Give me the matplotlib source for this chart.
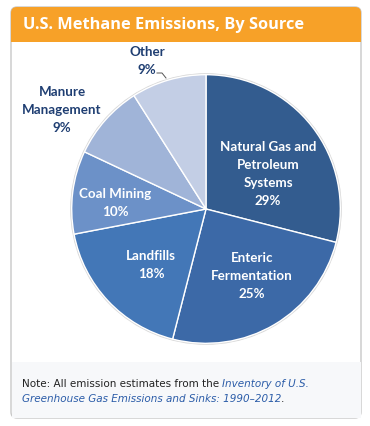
import numpy as np
import matplotlib
matplotlib.use('Agg')
import matplotlib.pyplot as plt
from matplotlib.patches import FancyBboxPatch, Rectangle

# data
sources = ['Natural Gas and\nPetroleum\nSystems', 'Enteric\nFermentation', 'Landfills',
           'Coal Mining', 'Manure\nManagement', 'Other']
shares = [29, 25, 18, 10, 9, 9]
colors = ['#335C8F', '#3C69A7', '#4377B7', '#6C91C8', '#A0B4D8', '#C3CEE5']

# label placement in pixels (x, y) and whether the label sits inside the slice
label_pos = [(268, 174), (252, 276), (151, 265), (115, 203), (62, 110), (147, 61)]
label_inside = [True, True, True, True, False, False]

W, H = 370, 426
fig = plt.figure(figsize=(W / 100, H / 100), dpi=100)
bg = fig.add_axes([0, 0, 1, 1])
bg.set_xlim(0, W)
bg.set_ylim(H, 0)
bg.axis('off')

# frame, header and note box
bg.add_patch(FancyBboxPatch((11, 7), 350, 411, boxstyle='round,pad=0,rounding_size=6',
                            fc='white', ec='#C8C8C8', lw=1))
bg.add_patch(FancyBboxPatch((11, 7), 350, 35, boxstyle='round,pad=0,rounding_size=6',
                            fc='#F7A128', ec='none'))
bg.add_patch(Rectangle((11, 30), 350, 12, fc='#F7A128', ec='none'))
bg.add_patch(Rectangle((11.5, 362), 349, 55.5, fc='#F7F8FA', ec='none'))

bg.text(23, 25, 'U.S. Methane Emissions, By Source', color='white', fontsize=11.8,
        fontweight='bold', family='Open Sans', va='center', ha='left')

# note
fs = 7.5
t1 = bg.text(22, 387, 'Note: All emission estimates from the ', color='#222222',
              fontsize=fs, family='DejaVu Sans', va='baseline')
bg.annotate('Inventory of U.S.', xy=(1, 0), xycoords=t1, va='bottom', ha='left',
            color='#2B5CA8', fontsize=fs, family='DejaVu Sans', style='italic')
t3 = bg.text(22, 402, 'Greenhouse Gas Emissions and Sinks: 1990\u20132012', color='#2B5CA8',
             fontsize=fs, family='DejaVu Sans', style='italic', va='baseline')
bg.annotate('.', xy=(1, 0), xycoords=t3, va='bottom', ha='left',
            color='#222222', fontsize=fs, family='DejaVu Sans')

# pie
cx, cy, r = 206, 209, 137
pax = fig.add_axes([(cx - r) / W, (H - cy - r) / H, 2 * r / W, 2 * r / H])
pax.pie(shares, colors=colors, startangle=90, counterclock=False,
        wedgeprops=dict(edgecolor='white', linewidth=1))
pax.add_patch(plt.Circle((0, 0), 1.005, fill=False, ec='#D8D8D8', lw=1.2, zorder=0))
pax.set_xlim(-1.02, 1.02)
pax.set_ylim(-1.02, 1.02)
pax.set_aspect('auto')
pax.axis('off')

for name, val, (x, y), inside in zip(sources, shares, label_pos, label_inside):
    pax.text(x, y, f'{name}\n{val}%', ha='center', va='center', fontsize=9.6,
             fontweight='bold', family='Lato', linespacing=1.62,
             color='white' if inside else '#1F3E72', zorder=5,
             transform=bg.transData, clip_on=False)

# leader line for "Other"
pax.plot([157, 162, 166], [73, 73, 78], color='#555555', lw=0.7, zorder=5,
         transform=bg.transData, clip_on=False)

fig.savefig('out.png', dpi=100)
